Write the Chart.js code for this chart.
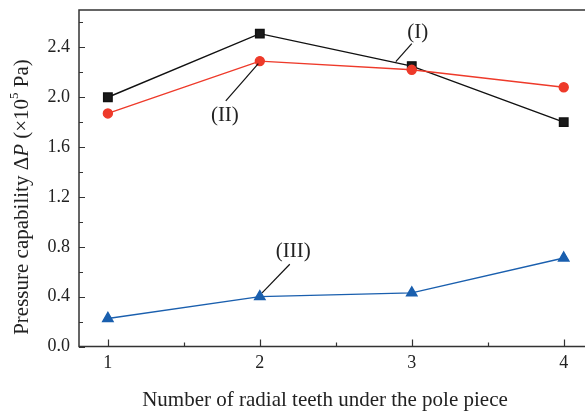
<!DOCTYPE html>
<html lang="en">
<head>
    <meta charset="UTF-8">
    <title>Pressure capability</title>
    <script src="https://cdn.jsdelivr.net/npm/chart.js"></script>
    <style>
        body { margin: 0; background: #fff; }
        canvas { display: block; }
    </style>
</head>
<body>
    <canvas id="pressureChart" width="585" height="416"></canvas>
    <script>
        const teeth = [1, 2, 3, 4];
        const seriesI = [2.00, 2.51, 2.25, 1.80];
        const seriesII = [1.87, 2.29, 2.22, 2.08];
        const seriesIII = [0.225, 0.40, 0.43, 0.71];
        const yTicks = [0.0, 0.4, 0.8, 1.2, 1.6, 2.0, 2.4];
        const xTicks = [1, 2, 3, 4];
        const xTitle = 'Number of radial teeth under the pole piece';

        const serif = '"Liberation Serif", "DejaVu Serif", serif';
        const axisColor = '#333';

        // callouts in data coordinates: text spot and leader line
        const callouts = [
            { text: '(I)', at: [3.04, 2.52], from: [3.0, 2.43], to: [2.895, 2.285] },
            { text: '(II)', at: [1.77, 1.85], from: [1.776, 1.97], to: [1.99, 2.27] },
            { text: '(III)', at: [2.22, 0.76], from: [2.197, 0.66], to: [2.015, 0.43] }
        ];

        const toPts = arr => arr.map((v, i) => ({ x: teeth[i], y: v }));
        const noPad = s => { s.paddingLeft = 0; s.paddingRight = 0; s.paddingTop = 0; s.paddingBottom = 0; };

        const framePlugin = {
            id: 'frame',
            afterDatasetsDraw(chart) {
                const { ctx, chartArea: a, scales: { x, y } } = chart;
                ctx.save();
                ctx.strokeStyle = axisColor;
                ctx.lineWidth = 1.5;
                ctx.beginPath();
                ctx.moveTo(a.right + 2, a.top);
                ctx.lineTo(a.left, a.top);
                ctx.lineTo(a.left, a.bottom);
                ctx.lineTo(a.right + 2, a.bottom);
                ctx.stroke();

                ctx.lineWidth = 1.2;
                ctx.beginPath();
                for (let v = 0; v <= 2.6001; v += 0.2) {
                    const py = Math.round(y.getPixelForValue(v)) + 0.5;
                    const len = Math.round(v * 10) % 4 === 0 ? 6 : 4;
                    ctx.moveTo(a.left, py);
                    ctx.lineTo(a.left + len, py);
                }
                for (let v = 1; v <= 4.001; v += 0.5) {
                    const px = Math.round(x.getPixelForValue(v)) + 0.5;
                    const len = Number.isInteger(v) ? 7 : 4;
                    ctx.moveTo(px, a.bottom);
                    ctx.lineTo(px, a.bottom - len);
                }
                ctx.stroke();

                // callouts
                ctx.strokeStyle = '#111';
                ctx.lineWidth = 1.2;
                ctx.fillStyle = '#222';
                ctx.font = '21px ' + serif;
                ctx.textAlign = 'center';
                ctx.textBaseline = 'middle';
                callouts.forEach(c => {
                    ctx.beginPath();
                    ctx.moveTo(x.getPixelForValue(c.from[0]), y.getPixelForValue(c.from[1]));
                    ctx.lineTo(x.getPixelForValue(c.to[0]), y.getPixelForValue(c.to[1]));
                    ctx.stroke();
                    ctx.fillText(c.text, x.getPixelForValue(c.at[0]), y.getPixelForValue(c.at[1]));
                });

                // x axis title (a little left of the plot centre, as in the figure)
                ctx.fillText(xTitle, 325, 400);

                // y axis title with italic P and superscript
                ctx.translate(22, 197);
                ctx.rotate(-Math.PI / 2);
                ctx.textAlign = 'left';
                const parts = [
                    { t: 'Pressure capability \u0394', f: '21px ' + serif, dy: 0 },
                    { t: 'P', f: 'italic 21px ' + serif, dy: 0 },
                    { t: ' (\u00d710', f: '21px ' + serif, dy: 0 },
                    { t: '5', f: '13px ' + serif, dy: -7 },
                    { t: ' Pa)', f: '21px ' + serif, dy: 0 }
                ];
                let total = 0;
                parts.forEach(p => { ctx.font = p.f; total += ctx.measureText(p.t).width; });
                let cx = -total / 2;
                parts.forEach(p => {
                    ctx.font = p.f;
                    ctx.fillText(p.t, cx, p.dy);
                    cx += ctx.measureText(p.t).width;
                });
                ctx.restore();
            }
        };

        const ctx = document.getElementById('pressureChart').getContext('2d');
        const pressureChart = new Chart(ctx, {
            type: 'line',
            data: {
                datasets: [
                    {
                        label: '(II)',
                        data: toPts(seriesII),
                        borderColor: '#ee3a2a',
                        backgroundColor: '#ee3a2a',
                        pointStyle: 'circle',
                        pointRadius: 4.5,
                        borderWidth: 1.4,
                        order: 0
                    },
                    {
                        label: '(I)',
                        data: toPts(seriesI),
                        borderColor: '#111',
                        backgroundColor: '#1a1a1a',
                        pointStyle: 'rect',
                        pointRadius: 6,
                        borderWidth: 1.4,
                        order: 1
                    },
                    {
                        label: '(III)',
                        data: toPts(seriesIII),
                        borderColor: '#1a5fae',
                        backgroundColor: '#1a5fae',
                        pointStyle: 'triangle',
                        pointRadius: 6,
                        borderWidth: 1.4,
                        order: 2
                    }
                ]
            },
            options: {
                responsive: false,
                animation: false,
                layout: { autoPadding: false, padding: { top: 10, right: 0, left: 0, bottom: 0 } },
                plugins: {
                    legend: { display: false },
                    tooltip: { enabled: false }
                },
                elements: { line: { tension: 0 } },
                scales: {
                    x: {
                        type: 'linear',
                        min: 0.81,
                        max: 4.14,
                        afterBuildTicks: s => { s.ticks = xTicks.map(v => ({ value: v })); },
                        afterFit: s => { s.height = 69.5; noPad(s); },
                        grid: { display: false, drawTicks: false },
                        border: { display: false },
                        ticks: {
                            color: '#222',
                            padding: 6,
                            font: { family: serif, size: 18 }
                        }
                    },
                    y: {
                        type: 'linear',
                        min: 0,
                        max: 2.7,
                        afterBuildTicks: s => { s.ticks = yTicks.map(v => ({ value: v })); },
                        afterFit: s => { s.width = 79; noPad(s); },
                        grid: { display: false, drawTicks: false },
                        border: { display: false },
                        ticks: {
                            color: '#222',
                            padding: 9,
                            font: { family: serif, size: 18 },
                            callback: v => v.toFixed(1)
                        }
                    }
                }
            },
            plugins: [framePlugin]
        });
    </script>
</body>
</html>
